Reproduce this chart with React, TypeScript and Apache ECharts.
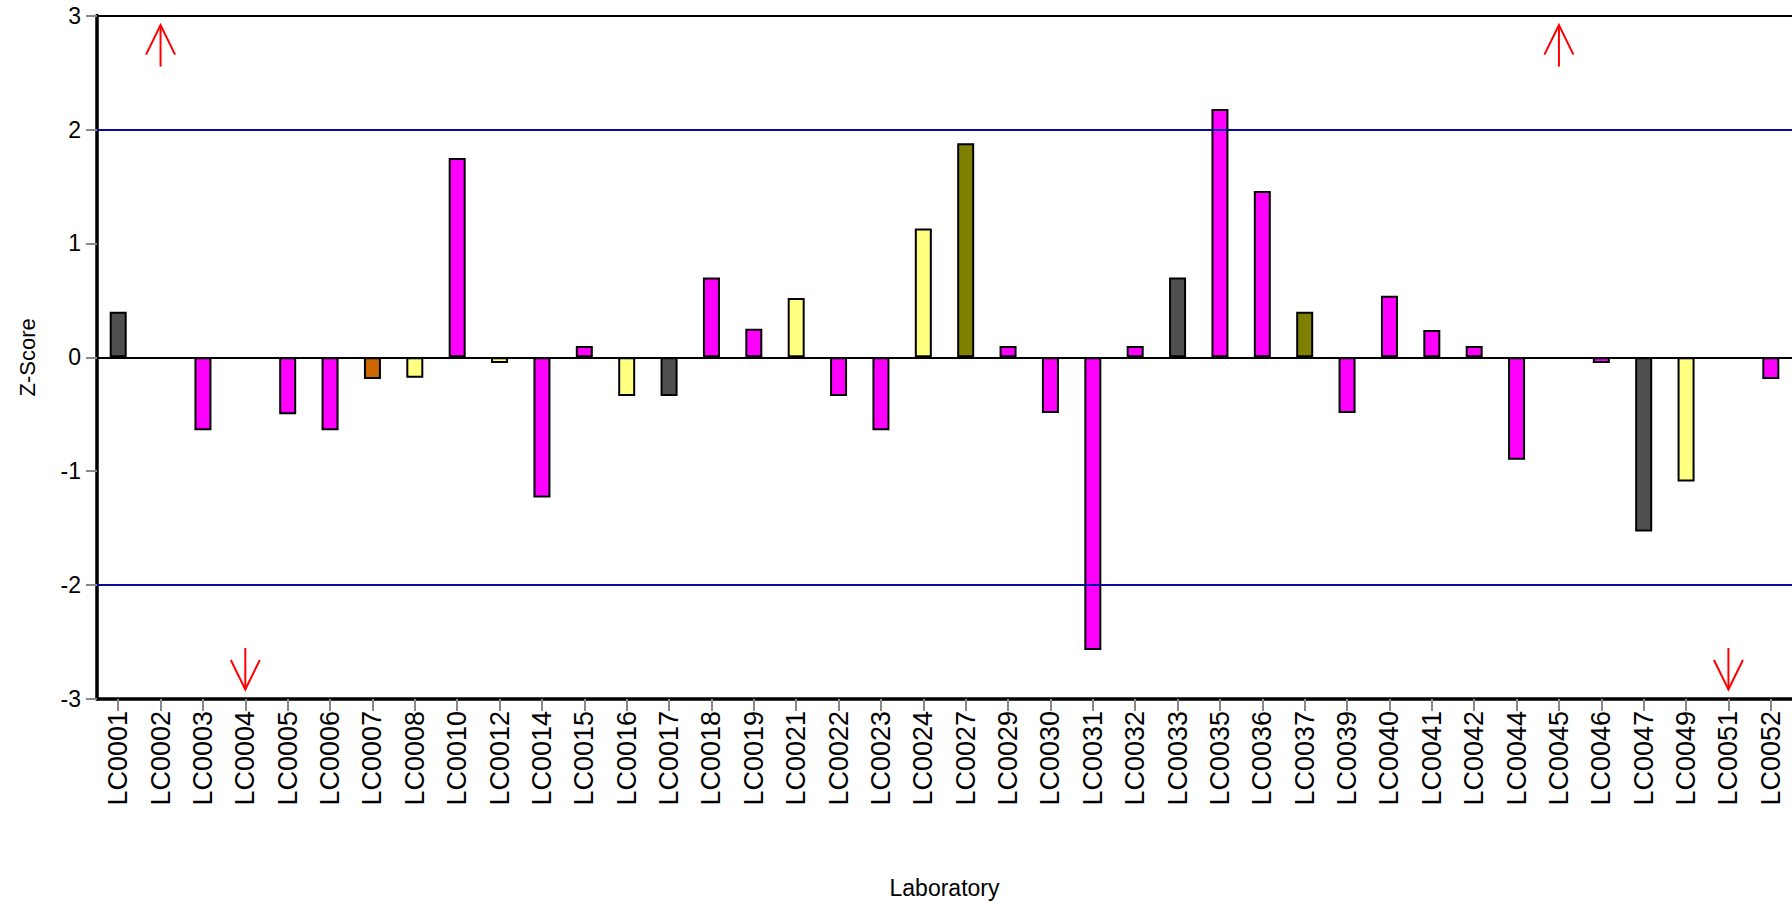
import React, { useEffect, useRef } from "react";
import * as echarts from "echarts";

const laboratories = [
  "LC0001", "LC0002", "LC0003", "LC0004", "LC0005", "LC0006", "LC0007", "LC0008",
  "LC0010", "LC0012", "LC0014", "LC0015", "LC0016", "LC0017", "LC0018", "LC0019",
  "LC0021", "LC0022", "LC0023", "LC0024", "LC0027", "LC0029", "LC0030", "LC0031",
  "LC0032", "LC0033", "LC0035", "LC0036", "LC0037", "LC0039", "LC0040", "LC0041",
  "LC0042", "LC0044", "LC0045", "LC0046", "LC0047", "LC0049", "LC0051", "LC0052",
];

const zScores: (number | null)[] = [
  0.4, null, -0.64, null, -0.5, -0.64, -0.19, -0.18,
  1.75, -0.05, -1.23, 0.1, -0.34, -0.34, 0.7, 0.25,
  0.52, -0.34, -0.64, 1.13, 1.88, 0.1, -0.49, -2.57,
  0.1, 0.7, 2.18, 1.46, 0.4, -0.49, 0.54, 0.24,
  0.1, -0.9, null, -0.05, -1.53, -1.09, null, -0.19,
];

// method group of each laboratory (drives the bar colour)
const groups = [
  "D", "", "M", "", "M", "M", "O", "Y",
  "M", "Y", "M", "M", "Y", "D", "M", "M",
  "Y", "M", "M", "Y", "G", "M", "M", "M",
  "M", "D", "M", "M", "G", "M", "M", "M",
  "M", "M", "", "M", "D", "Y", "", "M",
];

const offScaleHigh = ["LC0002", "LC0045"];
const offScaleLow = ["LC0004", "LC0051"];

const yTicks = [-3, -2, -1, 0, 1, 2, 3];
const actionLimits = [2, -2];

const groupColors: Record<string, string> = {
  M: "#ff00ff",
  D: "#505050",
  Y: "#ffff80",
  G: "#808000",
  O: "#cc6600",
};

export default function App() {
  const ref = useRef<HTMLDivElement>(null);

  useEffect(() => {
    if (!ref.current) return;
    const chart = echarts.init(ref.current, undefined, { renderer: "svg" });
    const font = "'Liberation Sans', Arial, sans-serif";

    const barData = zScores.map((v, i) => ({
      value: v,
      itemStyle: { color: groupColors[groups[i]] || "#ff00ff" },
    }));

    const arrowData = [
      ...offScaleHigh.map((c) => [laboratories.indexOf(c), 1]),
      ...offScaleLow.map((c) => [laboratories.indexOf(c), -1]),
    ];

    chart.setOption({
      animation: false,
      backgroundColor: "#ffffff",
      grid: { left: 97, right: -7, top: 15.6, height: 684 },
      xAxis: {
        type: "category",
        data: laboratories,
        boundaryGap: true,
        name: "Laboratory",
        nameLocation: "middle",
        nameGap: 177,
        nameTextStyle: { fontSize: 23, color: "#000", fontFamily: font },
        axisLine: { show: true, onZero: false, lineStyle: { color: "#000", width: 3.5 } },
        axisTick: { show: true, alignWithLabel: true, length: 12, lineStyle: { color: "#888", width: 2 } },
        axisLabel: { rotate: 90, fontSize: 27, color: "#000", fontFamily: font, margin: 12, interval: 0 },
        splitLine: { show: false },
      },
      yAxis: {
        type: "value",
        min: yTicks[0],
        max: yTicks[yTicks.length - 1],
        interval: 1,
        name: "Z-Score",
        nameLocation: "middle",
        nameGap: 59,
        nameTextStyle: { fontSize: 22, color: "#000", fontFamily: font },
        axisLine: { show: true, lineStyle: { color: "#000", width: 3.5 } },
        axisTick: { show: true, length: 11, lineStyle: { color: "#888", width: 2 } },
        axisLabel: { fontSize: 23, color: "#000", fontFamily: font, margin: 16 },
        splitLine: { show: false },
      },
      series: [
        {
          type: "bar",
          data: barData,
          barWidth: 17,
          itemStyle: { borderColor: "#000", borderWidth: 2 },
          markLine: {
            silent: true,
            symbol: "none",
            label: { show: false },
            data: [
              { yAxis: yTicks[yTicks.length - 1], lineStyle: { color: "#000", width: 2, type: "solid" } },
              ...actionLimits.map((v) => ({ yAxis: v, lineStyle: { color: "#0a0aa0", width: 2, type: "solid" } })),
              { yAxis: 0, lineStyle: { color: "#000", width: 2, type: "solid" } },
            ],
          },
        },
        {
          type: "custom",
          data: arrowData,
          encode: { x: 0, y: 1 },
          renderItem: (params: any, api: any) => {
            const idx = api.value(0);
            const dir = api.value(1);
            const pt = api.coord([idx, dir > 0 ? yTicks[yTicks.length - 1] : yTicks[0]]);
            const x = pt[0];
            const s = dir > 0 ? 1 : -1;
            const tip = pt[1] + s * 9.5;
            const tail = pt[1] + s * 51;
            const head = pt[1] + s * 39;
            const style = { stroke: "#ff0000", lineWidth: 2, fill: "none" };
            return {
              type: "group",
              children: [
                { type: "line", shape: { x1: x, y1: tip, x2: x, y2: tail }, style },
                { type: "polyline", shape: { points: [[x - 14.5, head], [x, tip], [x + 14.5, head]] }, style },
              ],
            };
          },
        },
      ],
    });

    return () => chart.dispose();
  }, []);

  return (
    <div
      ref={ref}
      style={{ position: "fixed", left: 0, top: 0, width: 1792, height: 904, background: "#fff" }}
    />
  );
}
